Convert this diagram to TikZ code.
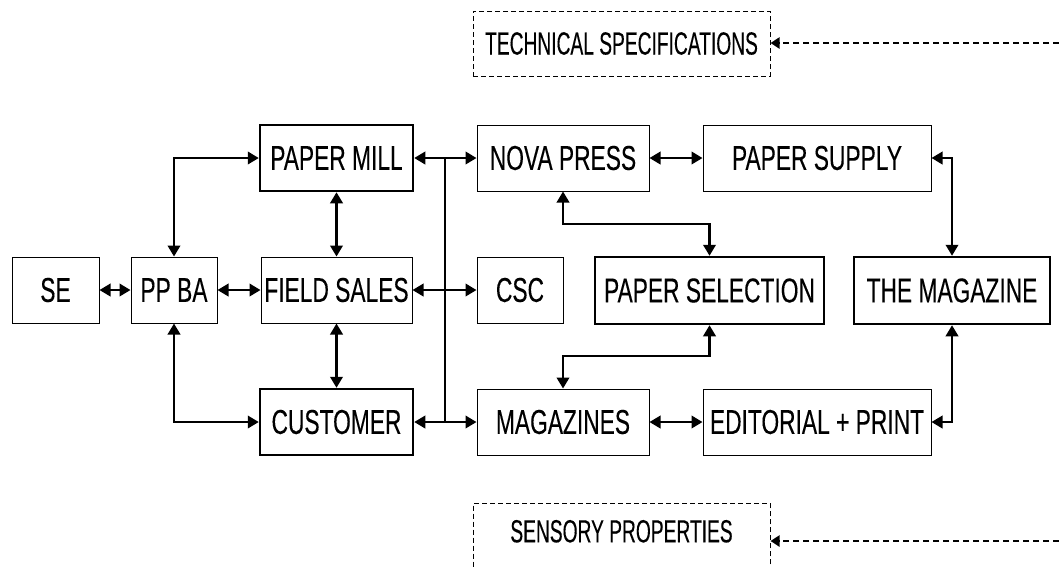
\documentclass[tikz,border=0pt]{standalone}
\usepackage{fontspec}
\setmainfont[FakeStretch=0.66,FakeBold=0.2]{Liberation Sans}
\newfontfamily\dashfont[FakeStretch=0.6,FakeBold=0.2]{Liberation Sans}
\usetikzlibrary{arrows.meta}
\begin{document}
\begin{tikzpicture}[x=1pt,y=-1pt,
  box/.style={draw,line width=1pt,inner sep=0pt,font=\fontsize{34.5}{37}\selectfont},
  tbox/.style={box,line width=2.5pt},
  dbox/.style={box,dashed,dash pattern=on 5pt off 3pt,font=\dashfont\fontsize{32}{34}\selectfont},
  conn/.style={line width=2.2pt,{Triangle[length=11pt,width=12.5pt]}-{Triangle[length=11pt,width=12.5pt]}},
  line/.style={line width=2.2pt},
  dconn/.style={line width=2.2pt,dash pattern=on 6pt off 4pt,-{Triangle[length=9pt,width=11pt]}}]
\useasboundingbox (0,0) rectangle (1059,566);
\node[box,minimum width=87pt,minimum height=66pt] (se) at (55.5,290) {SE};
\node[box,minimum width=86pt,minimum height=66pt] (ppba) at (174,290) {PP BA};
\node[tbox,minimum width=153pt,minimum height=66pt] (mill) at (336.5,158) {PAPER MILL};
\node[box,minimum width=151pt,minimum height=66pt] (fs) at (336.5,290) {FIELD SALES};
\node[tbox,minimum width=153pt,minimum height=66pt] (cust) at (336.5,422) {CUSTOMER};
\node[box,minimum width=172pt,minimum height=66pt] (nova) at (563,158) {NOVA PRESS};
\node[box,minimum width=86pt,minimum height=66pt] (csc) at (520,290) {CSC};
\node[tbox,minimum width=229pt,minimum height=67pt] (psel) at (709.5,290.5) {PAPER SELECTION};
\node[box,minimum width=172pt,minimum height=66pt] (mags) at (563,422) {MAGAZINES};
\node[box,minimum width=228pt,minimum height=66pt] (psup) at (817,158) {PAPER SUPPLY};
\node[tbox,minimum width=196pt,minimum height=67pt] (tmag) at (952,290.5) {THE MAGAZINE};
\node[box,minimum width=228pt,minimum height=66pt] (edit) at (817,422) {EDITORIAL + PRINT};
\node[dbox,minimum width=297pt,minimum height=65pt] (tech) at (621.5,43.5) {TECHNICAL SPECIFICATIONS};
\node[dbox,minimum width=297pt,anchor=north,text height=38.8pt,text depth=45pt] (sens) at (621.5,503) {SENSORY PROPERTIES};
\coordinate (bt) at (445,158);
\coordinate (bb) at (445,422);
\coordinate (k1) at (600,224);
\coordinate (k2) at (600,356);
\coordinate (r1) at (1059,43);
\coordinate (r2) at (1059,541);
\draw[conn] (se) -- (ppba);
\draw[conn] (ppba) -- (fs);
\draw[conn] (ppba.north) |- (mill.west);
\draw[conn] (ppba.south) |- (cust.west);
\draw[conn] (mill) -- (fs);
\draw[conn] (fs) -- (cust);
\draw[line] (bt) -- (bb);
\draw[conn] (mill) -- (nova);
\draw[conn] (fs) -- (csc);
\draw[conn] (cust) -- (mags);
\draw[conn] (nova) -- (psup);
\draw[conn] (mags) -- (edit);
\draw[conn] (nova.south) -- (nova.south |- k1) -| (psel.north);
\draw[conn] (psel.south) -- (psel.south |- k2) -| (mags.north);
\draw[conn] (psup.east) -| (tmag.north);
\draw[conn] (edit.east) -| (tmag.south);
\draw[dconn] (r1) -- (tech.east |- r1);
\draw[dconn] (r2) -- (sens.east |- r2);
\end{tikzpicture}
\end{document}
